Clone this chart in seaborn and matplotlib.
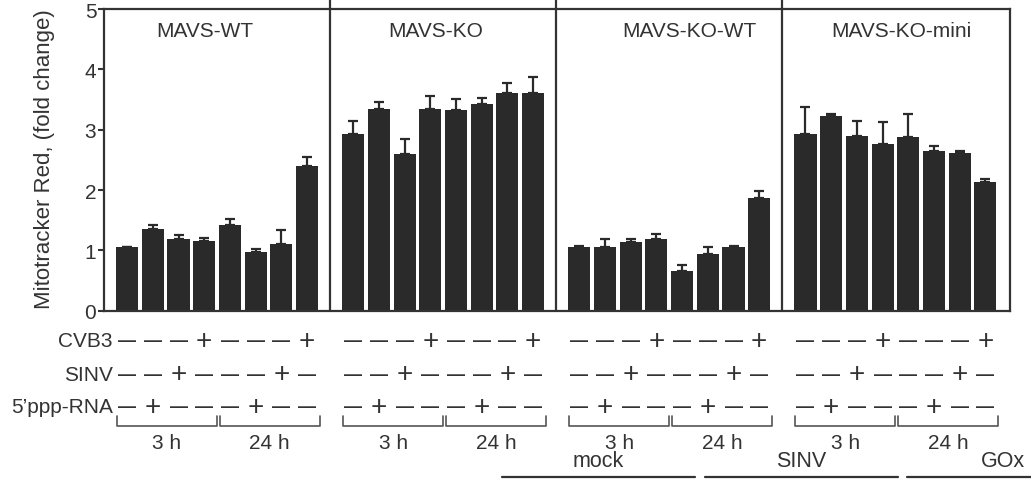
import numpy as np
import pandas as pd
import matplotlib
matplotlib.use("Agg")
import matplotlib.pyplot as plt
import seaborn as sns

# --------------------------
# Data
groups = ["MAVS-WT", "MAVS-KO", "MAVS-KO-WT", "MAVS-KO-mini"]

wt_vals = [1.05, 1.36, 1.18, 1.15, 1.42, 0.97, 1.11, 2.39]
wt_err = [0.01, 0.06, 0.07, 0.05, 0.10, 0.06, 0.23, 0.15]

ko_vals = [2.93, 3.35, 2.60, 3.35, 3.33, 3.43, 3.60, 3.61]
ko_err = [0.22, 0.11, 0.25, 0.21, 0.18, 0.10, 0.17, 0.27]

kowt_vals = [1.06, 1.05, 1.14, 1.19, 0.66, 0.94, 1.06, 1.86]
kowt_err = [0.01, 0.14, 0.05, 0.08, 0.10, 0.12, 0.01, 0.13]

komini_vals = [2.93, 3.23, 2.90, 2.77, 2.88, 2.65, 2.62, 2.14]
komini_err = [0.44, 0.03, 0.25, 0.35, 0.38, 0.08, 0.03, 0.05]

row_names = ["CVB3", "SINV", "5\u2019ppp-RNA"]
cvb3 = ["-", "-", "-", "+", "-", "-", "-", "+"]
sinv = ["-", "-", "+", "-", "-", "-", "+", "-"]
ppp = ["-", "+", "-", "-", "-", "+", "-", "-"]

time_labels = ["3 h", "24 h"]
treatments = ["mock", "SINV", "GOx"]

# --------------------------
# layout
PANEL = 8.8          # panel width in bar slots
BAR_W = 0.86
DARK = "#2a2a2a"
TXT = "#333333"
FS = 15

all_vals = [wt_vals, ko_vals, kowt_vals, komini_vals]
all_err = [wt_err, ko_err, kowt_err, komini_err]

rows = []
for g, (vals, errs) in enumerate(zip(all_vals, all_err)):
    for i, (v, e) in enumerate(zip(vals, errs)):
        rows.append({"group": groups[g], "pos": g * PANEL + i, "value": v, "err": e})
df = pd.DataFrame(rows)

sns.set_style("white")
plt.rcParams["font.family"] = ["Liberation Sans", "DejaVu Sans"]

fig = plt.figure(figsize=(10.31, 4.81), dpi=100)
ax = fig.add_axes([104 / 1031, 1 - 311.7 / 481, 906 / 1031, 301.7 / 481])

sns.barplot(data=df, x="pos", y="value", native_scale=True, width=BAR_W,
            color=DARK, saturation=1, linewidth=0, errorbar=None, ax=ax)
ax.errorbar(df["pos"], df["value"], yerr=[np.zeros(len(df)), df["err"]],
            fmt="none", ecolor=DARK, elinewidth=1.6, capsize=3.6, capthick=1.6)

ax.set_xlim(-0.9, 3 * PANEL + 7.96)
ax.set_ylim(0, 5)
ax.set_xticks([])
ax.set_xlabel("")
ax.set_yticks(range(6))
ax.tick_params(axis="y", direction="out", length=4, width=1.5, color=TXT,
               labelsize=15, labelcolor=TXT, pad=1.5, left=True)
for s in ax.spines.values():
    s.set_visible(True)
    s.set_linewidth(1.6)
    s.set_color(TXT)

ax.set_ylabel("Mitotracker Red, (fold change)", fontsize=16, color=TXT)
ax.yaxis.set_label_coords(-0.054, 0.505)

# panel separators (run up past the top frame)
for g in range(3):
    ax.vlines(g * PANEL + 7.9, 0, 5.17, color=TXT, lw=1.6, clip_on=False)

# panel titles
title_dx = [-0.47, -0.28, 0.77, 0.22]
for g, name in enumerate(groups):
    ax.text(g * PANEL + 3.5 + title_dx[g], 4.64, name, ha="center", va="center",
            fontsize=15, color=TXT)

# treatment table under the bars
tr = ax.get_xaxis_transform()
row_y = [-0.10, -0.21, -0.318]
for name, signs, y in zip(row_names, [cvb3, sinv, ppp], row_y):
    ax.text(-0.55, y, name, transform=tr, ha="right", va="center",
            fontsize=FS, color=TXT)
    for g in range(4):
        for i, s in enumerate(signs):
            if s == "-":
                ax.text(g * PANEL + i, y, "\u2014", transform=tr, ha="center",
                        va="center", fontsize=13, fontweight="bold", color=TXT)
            else:
                ax.text(g * PANEL + i, y, "+", transform=tr, ha="center",
                        va="center", fontsize=20, color=TXT)

# time brackets
b_top, b_bot = -0.349, -0.382
for g in range(4):
    for k, lab in enumerate(time_labels):
        x0 = g * PANEL + 4 * k - 0.4
        x1 = g * PANEL + 4 * k + 3.5
        ax.plot([x0, x0, x1, x1], [b_top, b_bot, b_bot, b_top], transform=tr,
                color="#555555", lw=1.2, clip_on=False)
        ax.text((x0 + x1) / 2, -0.438, lab, transform=tr, ha="center",
                va="center", fontsize=FS, color=TXT)

# stimulus groups at the very bottom
spans = [(14.6, 22.1), (22.5, 30.0), (30.35, 37.85)]
for lab, (x0, x1) in zip(treatments, spans):
    ax.plot([x0, x1], [-0.551, -0.551], transform=tr, color=TXT, lw=1.6,
            clip_on=False)
    ax.text((x0 + x1) / 2 if x1 < 35 else 34.1, -0.497, lab, transform=tr,
            ha="center", va="center", fontsize=FS + 0.5, color=TXT)

fig.savefig("out.png", dpi=100)
